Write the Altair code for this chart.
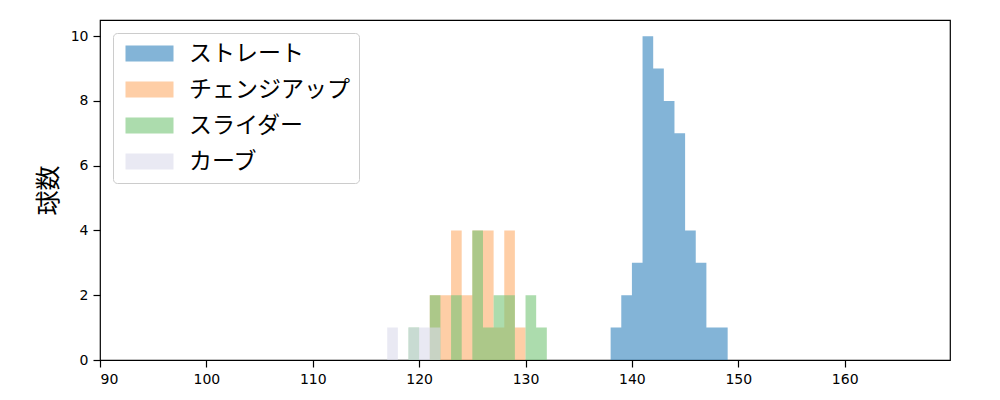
import altair as alt
import pandas as pd

series_names = ["ストレート", "チェンジアップ", "スライダー", "カーブ"]
series_colors = ["#3182bd", "#fdae6b", "#74c476", "#dadaeb"]

straight_bins = [138, 139, 140, 141, 142, 143, 144, 145, 146, 147, 148]
straight_counts = [1, 2, 3, 10, 9, 8, 7, 4, 3, 1, 1]

changeup_bins = [121, 122, 123, 124, 125, 126, 127, 128, 129]
changeup_counts = [2, 2, 4, 2, 4, 4, 1, 4, 1]

slider_bins = [119, 121, 123, 125, 126, 127, 128, 130, 131]
slider_counts = [1, 2, 2, 4, 1, 2, 2, 2, 1]

curve_bins = [117, 119, 120, 121]
curve_counts = [1, 1, 1, 1]

bin_width = 1
x_ticks = [90, 100, 110, 120, 130, 140, 150, 160]
y_ticks = [0, 2, 4, 6, 8, 10]

series = [
    (series_names[0], straight_bins, straight_counts),
    (series_names[1], changeup_bins, changeup_counts),
    (series_names[2], slider_bins, slider_counts),
    (series_names[3], curve_bins, curve_counts),
]

# step outline per series: one point per bin start (empty bins = 0), closing point at 0
rows = []
for name, bins, counts in series:
    lookup = dict(zip(bins, counts))
    b = bins[0]
    while b <= bins[-1]:
        rows.append({"球種": name, "x": b, "count": lookup.get(b, 0)})
        b += bin_width
    rows.append({"球種": name, "x": bins[-1] + bin_width, "count": 0})
df = pd.DataFrame(rows)

color = alt.Color(
    "球種:N",
    scale=alt.Scale(domain=series_names, range=series_colors),
    legend=alt.Legend(
        title=None,
        orient="none",
        legendX=13,
        legendY=13,
        symbolType="M-1,-1H5V1H-1Z",
        symbolSize=256,
        symbolStrokeWidth=0,
        symbolOpacity=0.6,
        labelOffset=44,
        labelFontSize=23,
        labelFont="Noto Sans CJK JP",
        labelColor="#000000",
        labelLimit=400,
        rowPadding=12,
        padding=9,
        fillColor="#ffffff",
        strokeColor="#cccccc",
        cornerRadius=4,
    ),
)

base = alt.Chart(df).mark_area(opacity=0.6, interpolate="step-after").encode(
    x=alt.X(
        "x:Q",
        scale=alt.Scale(domain=[90, 169.9], nice=False, zero=False),
        axis=alt.Axis(values=x_ticks, title=None),
    ),
    y=alt.Y(
        "count:Q",
        scale=alt.Scale(domain=[0, 10.5], nice=False),
        axis=alt.Axis(values=y_ticks, title="球数"),
    ),
    color=color,
)

layers = [base.transform_filter(alt.datum["球種"] == n) for n in series_names]

chart = (
    alt.layer(*layers)
    .properties(
        width=850,
        height=340,
        autosize=alt.AutoSizeParams(type="none"),
        padding={"left": 92, "top": 12, "right": 40, "bottom": 30},
    )
    .configure_view(stroke="#000000", strokeWidth=1.2)
    .configure_axis(
        grid=False,
        domain=False,
        tickColor="#000000",
        tickSize=7,
        tickWidth=1.2,
        labelFont="DejaVu Sans",
        labelFontSize=14,
        labelColor="#000000",
        labelPadding=5,
        titleFont="Noto Sans CJK JP",
        titleFontSize=25,
        titleFontWeight="normal",
        titleColor="#000000",
        titlePadding=9,
    )
)

chart.save("out.html", embed_options={"renderer": "svg", "actions": False})
